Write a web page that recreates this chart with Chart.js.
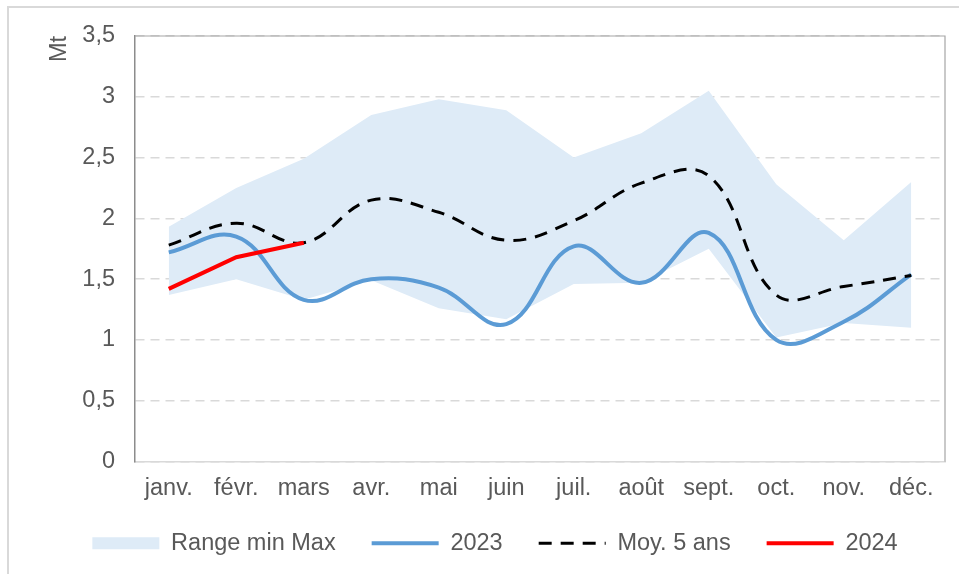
<!DOCTYPE html>
<html>
<head>
<meta charset="utf-8">
<script src="https://cdn.jsdelivr.net/npm/chart.js@4.4.1/dist/chart.umd.min.js"></script>
<style>
  html,body{margin:0;padding:0;background:#fff;overflow:hidden;width:959px;height:574px;}
  #frame{position:absolute;left:7px;top:6px;width:990px;height:600px;border:2px solid #d9d9d9;}
  #frame canvas{display:block;}
</style>
</head>
<body>
<div id="frame"><canvas id="chart" width="990" height="600"></canvas></div>
<script>
const months=['janv.','févr.','mars','avr.','mai','juin','juil.','août','sept.','oct.','nov.','déc.'];
const rangeMax=[1.93,2.25,2.49,2.85,2.98,2.89,2.50,2.70,3.05,2.28,1.82,2.30];
const rangeMin=[1.37,1.50,1.33,1.49,1.26,1.17,1.46,1.47,1.75,1.02,1.14,1.10];
const values2023=[1.72,1.85,1.33,1.50,1.43,1.13,1.77,1.47,1.88,1.00,1.15,1.54];
const moy5ans=[1.78,1.96,1.80,2.15,2.05,1.82,1.98,2.29,2.35,1.37,1.44,1.53];
const values2024=[1.42,1.68,1.80];
const yTicks=[0,0.5,1,1.5,2,2.5,3,3.5];
const yTickLabels=['0','0,5','1','1,5','2','2,5','3','3,5'];

const textColor='#595959';
const font={family:"'Liberation Sans', Arial, sans-serif",size:23.5};

// cadre haut + droite de la zone de tracé
const plotFrame={
    id:'plotFrame',
    afterDraw(chart){
        const {ctx,chartArea}=chart;
        ctx.save();
        ctx.strokeStyle='#a6a6a6';
        ctx.lineWidth=1.2;
        ctx.beginPath();
        ctx.moveTo(chartArea.left,chartArea.top);
        ctx.lineTo(chartArea.right,chartArea.top);
        ctx.lineTo(chartArea.right,chartArea.bottom);
        ctx.stroke();
        ctx.restore();
    }
};

// remonte un peu la légende (padding horizontal large, vertical plus serré)
const legendShift={
    id:'legendShift',
    afterLayout(chart){
        const legend=chart.legend;
        if(!legend){
            return;
        }
        legend.top-=8;
        legend.bottom-=8;
    }
};

const ctx=document.getElementById('chart');
new Chart(ctx,{
    type:'line',
    data:{
        labels:months,
        datasets:[{
            label:'Range min Max',
            data:rangeMax,
            borderWidth:0,
            borderColor:'rgba(0,0,0,0)',
            backgroundColor:'#deebf7',
            fill:'+1',
            tension:0,
            pointRadius:0,
            pointStyle:'rect',
            order:3
        },{
            label:'min',
            data:rangeMin,
            borderWidth:0,
            borderColor:'rgba(0,0,0,0)',
            backgroundColor:'#deebf7',
            fill:false,
            tension:0,
            pointRadius:0,
            order:4
        },{
            label:'2023',
            data:values2023,
            borderColor:'#5b9bd5',
            backgroundColor:'#5b9bd5',
            borderWidth:4,
            tension:0.4,
            pointRadius:0,
            pointStyle:'line',
            order:2
        },{
            label:'Moy. 5 ans',
            data:moy5ans,
            borderColor:'#000000',
            backgroundColor:'#000000',
            borderWidth:3,
            borderDash:[13,9],
            tension:0.4,
            pointRadius:0,
            pointStyle:'line',
            order:1
        },{
            label:'2024',
            data:values2024,
            borderColor:'#ff0000',
            backgroundColor:'#ff0000',
            borderWidth:4,
            tension:0,
            pointRadius:0,
            pointStyle:'line',
            order:0
        }]
    },
    options:{
        responsive:false,
        animation:false,
        layout:{padding:{left:36,right:54,top:28,bottom:35}},
        plugins:{
            filler:{drawTime:'beforeDatasetsDraw'},
            tooltip:{enabled:false},
            legend:{
                position:'bottom',
                labels:{
                    usePointStyle:true,
                    pointStyleWidth:67,
                    boxHeight:12,
                    padding:36,
                    color:textColor,
                    font:font,
                    generateLabels:(chart)=>{
                        const items=Chart.defaults.plugins.legend.labels.generateLabels(chart);
                        items.forEach(item=>{
                            const ds=chart.data.datasets[item.datasetIndex];
                            item.lineDash=ds.borderDash||[];
                        });
                        return items;
                    },
                    filter:(item)=>item.text!=='min',
                    sort:(a,b)=>a.datasetIndex-b.datasetIndex
                }
            }
        },
        scales:{
            x:{
                offset:true,
                grid:{display:false,drawTicks:false},
                border:{display:true,color:'#d9d9d9',width:1.5},
                ticks:{color:textColor,font:font,padding:13,maxRotation:0,autoSkip:false},
                afterFit:(scale)=>{scale.height=42;}
            },
            y:{
                min:0,
                max:3.5,
                afterBuildTicks:(scale)=>{scale.ticks=yTicks.map(v=>({value:v}));},
                ticks:{
                    color:textColor,
                    font:font,
                    padding:6,
                    callback:(v,i)=>yTickLabels[i]
                },
                grid:{color:'#d9d9d9',lineWidth:1.4,drawTicks:true,tickLength:14,tickColor:'rgba(0,0,0,0)'},
                border:{display:true,color:'#8c8c8c',width:1.5,dash:[9,6]},
                title:{
                    display:true,
                    text:'Mt',
                    align:'end',
                    color:textColor,
                    font:font,
                    padding:{top:0,bottom:0}
                },
                afterFit:(scale)=>{scale.width=90;}
            }
        }
    },
    plugins:[plotFrame,legendShift]
});
</script>
</body>
</html>
